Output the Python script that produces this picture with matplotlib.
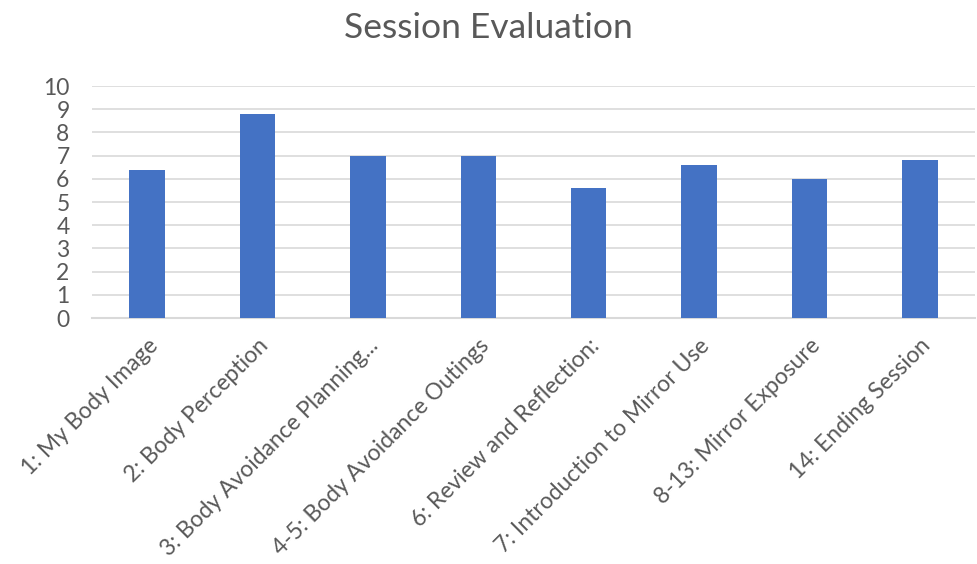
import matplotlib
matplotlib.use("Agg")
import matplotlib.pyplot as plt

sessions = [
    "1: My Body Image",
    "2: Body Perception",
    "3: Body Avoidance Planning...",
    "4-5: Body Avoidance Outings",
    "6: Review and Reflection:",
    "7: Introduction to Mirror Use",
    "8-13: Mirror Exposure",
    "14: Ending Session",
]
scores = [6.4, 8.8, 7.0, 7.0, 5.6, 6.6, 6.0, 6.8]
yticks = list(range(0, 11))

plt.rcParams['font.family'] = ['Lato', 'DejaVu Sans']
text_col = '#595959'

fig = plt.figure(figsize=(9.77, 5.64), dpi=100)
ax = fig.add_axes([0.094, 0.436, 0.904, 0.4115])

x = range(len(sessions))
ax.bar(x, scores, width=0.32, color='#4472C4', zorder=3)

ax.set_xlim(-0.5, len(sessions) - 0.5)
ax.set_ylim(0, 10)
ax.set_yticks(yticks)
ax.set_yticklabels([str(v) for v in yticks], fontsize=16.5, color=text_col)
ax.set_xticks(list(x))
ax.set_xticklabels(sessions, rotation=45, ha='right', rotation_mode='anchor',
                   fontsize=16.5, color=text_col)
ax.tick_params(axis='both', length=0)
ax.tick_params(axis='y', pad=16)
ax.tick_params(axis='x', pad=12)

ax.grid(axis='y', color='#d9d9d9', linewidth=1.2, zorder=0)
for s in ['top', 'right', 'left']:
    ax.spines[s].set_visible(False)
ax.spines['bottom'].set_color('#d9d9d9')
ax.spines['bottom'].set_linewidth(1.5)

fig.text(0.5, 0.95, 'Session Evaluation', fontsize=25.5, color=text_col,
         ha='center', va='center')

fig.savefig('out.png', dpi=100)
